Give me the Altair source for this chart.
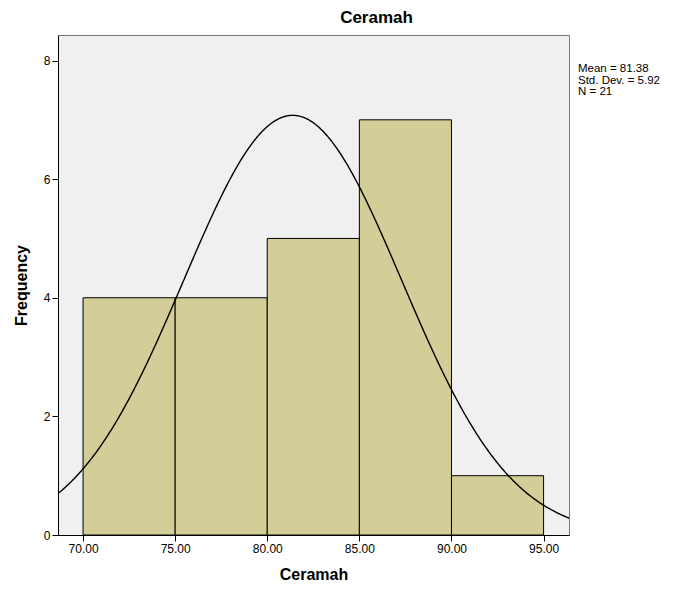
import altair as alt
import pandas as pd

# ---- data ----
bin_start = [70, 75, 80, 85, 90]
bin_end = [75, 80, 85, 90, 95]
frequency = [4, 4, 5, 7, 1]
x_ticks = [70, 75, 80, 85, 90, 95]
y_ticks = [0, 2, 4, 6, 8]
mean = 81.38
std_dev = 5.92
n_obs = 21
bin_width = 5
x_domain = [68.64, 96.38]
y_domain = [0, 8.43]
stats_text = ["Mean = 81.38", "Std. Dev. = 5.92", "N = 21"]

FONT = "Liberation Sans"

bars_df = pd.DataFrame({"start": bin_start, "end": bin_end, "freq": frequency})

xs = alt.Scale(domain=x_domain, nice=False, zero=False)
ys = alt.Scale(domain=y_domain, nice=False, zero=True)

bars = alt.Chart(bars_df).mark_rect(
    fill="#D3CE97", stroke="#000000", strokeWidth=1
).encode(
    x=alt.X("start:Q", scale=xs,
            axis=alt.Axis(values=x_ticks, format=".2f", title="Ceramah",
                          grid=False, tickSize=6, labelPadding=2,
                          titlePadding=12)),
    x2="end:Q",
    y=alt.Y("freq:Q", scale=ys,
            axis=alt.Axis(values=y_ticks, format="d", title="Frequency",
                          grid=False, tickSize=6, labelPadding=2,
                          titlePadding=14)),
    y2=alt.datum(0),
)

pdf_peak = f"{n_obs}*{bin_width}/({std_dev}*sqrt(2*PI))"
curve = alt.Chart(alt.sequence(x_domain[0], x_domain[1] + 0.05, 0.05, as_="cx")).transform_calculate(
    cy=f"{pdf_peak}*exp(-0.5*pow((datum.cx-{mean})/{std_dev},2))"
).mark_line(color="#000000", strokeWidth=1.4, clip=True).encode(
    x=alt.X("cx:Q", scale=xs),
    y=alt.Y("cy:Q", scale=ys),
)

stats = alt.Chart(pd.DataFrame({"t": ["\n".join(stats_text)]})).mark_text(
    align="left", baseline="top", font=FONT, fontSize=11.5, lineHeight=11.5,
    lineBreak="\n", color="#000000"
).encode(
    text="t:N",
    x=alt.value(520),
    y=alt.value(28),
)

chart = alt.layer(bars, curve, stats).properties(
    width=511,
    height=500,
    title=alt.TitleParams("Ceramah", font=FONT, fontSize=17, fontWeight="bold",
                          color="#000000", anchor="middle", dx=63, offset=8),
    autosize=alt.AutoSizeParams(type="none"),
    padding={"left": 50, "top": 27, "right": 96, "bottom": 53},
).configure_view(
    fill="#F0F0F0", stroke="#777777", strokeWidth=1
).configure_axis(
    labelFont=FONT, labelFontSize=12, labelColor="#000000",
    titleFont=FONT, titleFontSize=16, titleFontWeight="bold", titleColor="#000000",
    domainColor="#000000", tickColor="#000000", domainWidth=1, tickWidth=1,
)

chart.save("out.html", embed_options={"renderer": "svg", "actions": False})
